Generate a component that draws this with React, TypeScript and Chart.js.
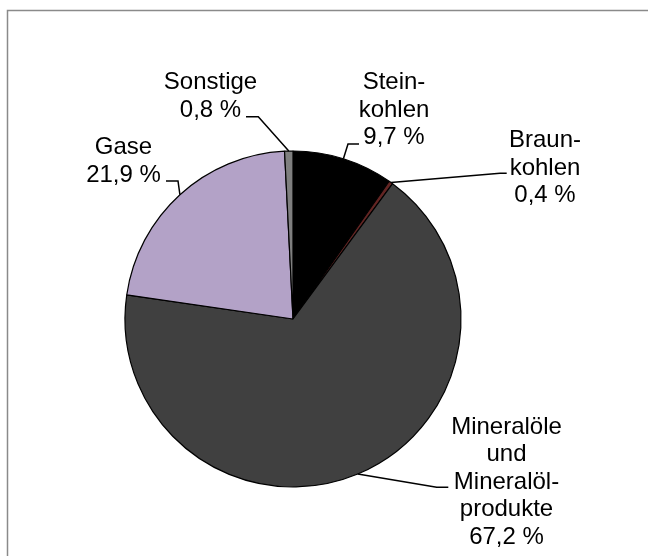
import React, { useEffect, useRef } from "react";
import { Chart, registerables } from "chart.js";

Chart.register(...registerables);

// ---- data ----
const categories = [
  "Steinkohlen",
  "Braunkohlen",
  "Mineralöle und Mineralölprodukte",
  "Gase",
  "Sonstige",
];
const labelLines = [
  ["Stein-", "kohlen"],
  ["Braun-", "kohlen"],
  ["Mineralöle", "und", "Mineralöl-", "produkte"],
  ["Gase"],
  ["Sonstige"],
];
const shares = [9.7, 0.4, 67.2, 21.9, 0.8];

// ---- styles / layout ----
const colors = ["#000000", "#632523", "#404040", "#b3a2c7", "#7f7f7f"];
const labelCenterX = [394, 545, 506.5, 123.5, 210.5];
const labelFirstBaseline = [89, 147, 433.5, 154, 89];
const leaderElbow = [
  [348, 144],
  [500, 173.3],
  [436.7, 487.3],
  [178, 181],
  [258.3, 116.7],
];
const leaderEnd = [
  [359, 144],
  [506.7, 173.3],
  [448.3, 487.3],
  [166, 181],
  [246, 116.7],
];
const LINE_HEIGHT = 27.5;
const FONT = "24px 'Liberation Sans', Arial, sans-serif";

const fmt = (v: number) => v.toFixed(1).replace(".", ",") + " %";

const labelPlugin = {
  id: "pieLabels",
  beforeDraw(chart: any) {
    const ctx = chart.ctx;
    ctx.save();
    ctx.fillStyle = "#ffffff";
    ctx.fillRect(0, 0, chart.width, chart.height);
    ctx.restore();
  },
  afterDraw(chart: any) {
    const ctx = chart.ctx;
    const meta = chart.getDatasetMeta(0);
    ctx.save();
    // frame
    ctx.strokeStyle = "#8a8a8a";
    ctx.lineWidth = 1.5;
    ctx.strokeRect(7.5, 10.5, 700, 700);

    meta.data.forEach((arc: any, i: number) => {
      const p = arc.getProps(["x", "y", "startAngle", "endAngle", "outerRadius"], true);
      const mid = (p.startAngle + p.endAngle) / 2;
      const ax = p.x + Math.cos(mid) * p.outerRadius;
      const ay = p.y + Math.sin(mid) * p.outerRadius;
      ctx.strokeStyle = "#000000";
      ctx.lineWidth = 1.5;
      ctx.beginPath();
      ctx.moveTo(ax, ay);
      ctx.lineTo(leaderElbow[i][0], leaderElbow[i][1]);
      ctx.lineTo(leaderEnd[i][0], leaderEnd[i][1]);
      ctx.stroke();

      const lines = [...labelLines[i], fmt(shares[i])];
      ctx.fillStyle = "#000000";
      ctx.font = FONT;
      ctx.textAlign = "center";
      ctx.textBaseline = "alphabetic";
      lines.forEach((t, k) => {
        ctx.fillText(t, labelCenterX[i], labelFirstBaseline[i] + k * LINE_HEIGHT);
      });
    });
    ctx.restore();
  },
};

export default function App() {
  const ref = useRef<HTMLCanvasElement | null>(null);
  useEffect(() => {
    if (!ref.current) return;
    const chart = new Chart(ref.current, {
      type: "pie",
      data: {
        labels: categories,
        datasets: [
          {
            data: shares,
            backgroundColor: colors,
            borderColor: "#000000",
            borderWidth: 1.2,
          },
        ],
      },
      options: {
        responsive: false,
        animation: false,
        events: [],
        radius: 168,
        layout: { padding: { left: 0, right: 62, top: 82, bottom: 0 } },
        plugins: {
          legend: { display: false },
          tooltip: { enabled: false },
          title: { display: false },
        },
      } as any,
      plugins: [labelPlugin],
    });
    return () => chart.destroy();
  }, []);
  return (
    <div style={{ position: "absolute", left: 0, top: 0, width: 648, height: 556, background: "#fff" }}>
      <canvas ref={ref} width={648} height={556} style={{ display: "block" }} />
    </div>
  );
}
